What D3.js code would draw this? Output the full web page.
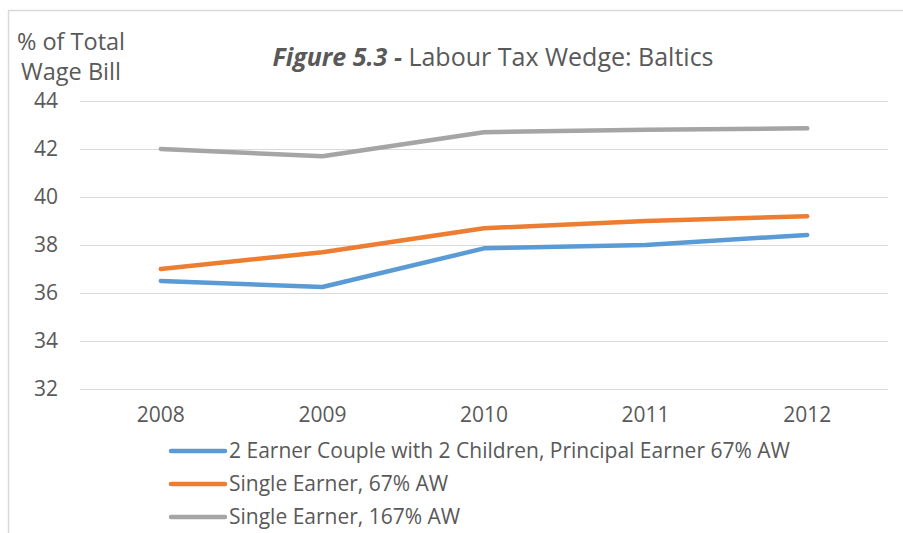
<!DOCTYPE html>
<html>
<head>
<meta charset="utf-8">
<script src="https://cdn.jsdelivr.net/npm/d3@7"></script>
<style>
  body { margin: 0; background: #fff; }
  svg text { font-family: "Open Sans", sans-serif; fill: #595959; }
</style>
</head>
<body>
<svg id="chart" width="903" height="533"></svg>
<script>
const years = ["2008", "2009", "2010", "2011", "2012"];
const yTicks = [32, 34, 36, 38, 40, 42, 44];
const seriesNames = [
  "2 Earner Couple with 2 Children, Principal Earner 67% AW",
  "Single Earner, 67% AW",
  "Single Earner, 167% AW"
];
const coupleValues = [36.5, 36.25, 37.86, 38.0, 38.42];
const single67Values = [37.0, 37.7, 38.7, 39.0, 39.2];
const single167Values = [42.0, 41.7, 42.7, 42.8, 42.86];
const colors = ["#5b9bd5", "#ed7d31", "#a5a5a5"];

const series = [coupleValues, single67Values, single167Values].map((vals, i) => ({
  name: seriesNames[i],
  color: colors[i],
  points: vals.map((v, j) => ({ year: years[j], value: v }))
}));

const svg = d3.select("#chart");
const margin = { top: 101, left: 80, right: 15, bottom: 144 };
const width = 903 - margin.left - margin.right,
  height = 533 - margin.top - margin.bottom;

// outer frame (top and left edges visible)
svg.append("path")
  .attr("d", "M8.5,533 V10.5 H903")
  .attr("fill", "none")
  .attr("stroke", "#d9d9d9")
  .attr("stroke-width", 1.5);

const g = svg.append("g")
  .attr("transform", `translate(${margin.left},${margin.top})`);

const x = d3.scaleBand().domain(years).range([0, width]);
const y = d3.scaleLinear().domain([32, 44]).range([height, 0]);

g.append("g")
  .attr("class", "grid")
  .call(d3.axisLeft(y).tickValues(yTicks).tickSize(-width).tickFormat(""))
  .call((s) => s.select(".domain").remove())
  .call((s) => s.selectAll("line").attr("stroke", "#d9d9d9").attr("stroke-width", 1.2));

g.append("g")
  .attr("class", "axis y")
  .call(d3.axisLeft(y).tickValues(yTicks).tickSize(0).tickPadding(22))
  .call((s) => s.select(".domain").remove())
  .call((s) => s.selectAll("text").style("font-size", "21px").attr("fill", "#595959"));

g.append("g")
  .attr("class", "axis x")
  .attr("transform", `translate(0,${height})`)
  .call(d3.axisBottom(x).tickSize(0).tickPadding(18))
  .call((s) => s.select(".domain").remove())
  .call((s) => s.selectAll("text").style("font-size", "21px").attr("fill", "#595959"));

const line = d3.line()
  .x((d) => x(d.year) + x.bandwidth() / 2)
  .y((d) => y(d.value));

g.selectAll(".series")
  .data(series)
  .enter()
  .append("path")
  .attr("class", "series")
  .attr("fill", "none")
  .attr("stroke", (d) => d.color)
  .attr("stroke-width", 4.5)
  .attr("stroke-linecap", "round")
  .attr("stroke-linejoin", "round")
  .attr("d", (d) => line(d.points));

// titles
const title = svg.append("text")
  .attr("x", 493)
  .attr("y", 66)
  .attr("text-anchor", "middle")
  .style("font-size", "25px");
title.append("tspan").attr("font-weight", "bold").attr("font-style", "italic").text("Figure 5.3 -");
title.append("tspan").text(" Labour Tax Wedge: Baltics");

svg.append("text").attr("x", 71).attr("y", 50).attr("text-anchor", "middle")
  .style("font-size", "23.5px").text("% of Total");
svg.append("text").attr("x", 71).attr("y", 80).attr("text-anchor", "middle")
  .style("font-size", "23.5px").text("Wage Bill");

// legend
const legend = svg.append("g").attr("transform", "translate(171,451)");
const item = legend.selectAll(".item")
  .data(series)
  .enter()
  .append("g")
  .attr("class", "item")
  .attr("transform", (d, i) => `translate(0,${i * 33})`);
item.append("line")
  .attr("x1", 0).attr("x2", 54)
  .attr("stroke", (d) => d.color)
  .attr("stroke-width", 4.5)
  .attr("stroke-linecap", "round");
item.append("text")
  .attr("x", 58)
  .attr("dy", "0.35em")
  .style("font-size", "21px")
  .text((d) => d.name);
</script>
</body>
</html>
